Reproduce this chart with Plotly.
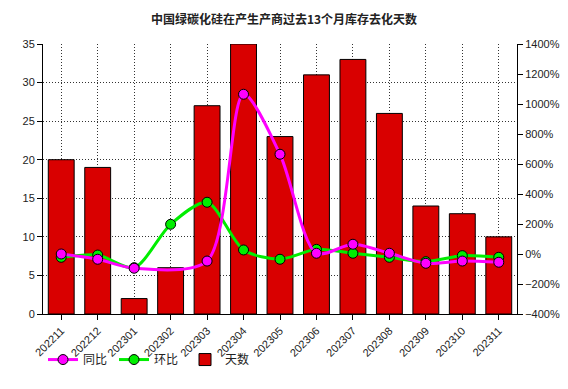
import plotly.graph_objects as go

months = ["202211", "202212", "202301", "202302", "202303", "202304", "202305",
          "202306", "202307", "202308", "202309", "202310", "202311"]
days = [20, 19, 2, 6, 27, 35, 23, 31, 33, 26, 14, 13, 10]
yoy = [0, -35, -95, None, -47, 1065, 665, 5, 65, 5, -62, -47, -55]
mom = [-22, -7, -91, 198, 345, 27, -35, 31, 5, -22, -51, -11, -22]

font_lat = "Liberation Sans, Arial, Noto Sans CJK SC, sans-serif"
font_cjk = "Noto Sans CJK SC, sans-serif"

fig = go.Figure()
fig.add_trace(go.Bar(
    x=months, y=days, name="天数", width=0.71,
    marker=dict(color="#D90000", line=dict(color="black", width=1)),
    legendrank=3,
))
fig.add_trace(go.Scatter(
    x=months, y=mom, name="环比", yaxis="y2", mode="lines+markers",
    line=dict(color="#00EE00", width=3, shape="spline", smoothing=0.8),
    marker=dict(size=10, color="#00EE00", line=dict(color="black", width=1)),
    legendrank=2,
))
fig.add_trace(go.Scatter(
    x=months, y=yoy, name="同比", yaxis="y2", mode="lines+markers",
    connectgaps=True,
    line=dict(color="#FF00FF", width=3, shape="spline", smoothing=0.8),
    marker=dict(size=10, color="#FF00FF", line=dict(color="black", width=1)),
    legendrank=1,
))

grid = dict(showgrid=True, gridcolor="#333333", griddash="1px,2px", gridwidth=1)

fig.update_layout(
    width=568, height=389,
    margin=dict(l=43, r=51, t=44, b=75, autoexpand=False),
    paper_bgcolor="white", plot_bgcolor="white",
    title=dict(text="<b>中国绿碳化硅在产生产商过去13个月库存去化天数</b>",
               x=0.5, xanchor="center", y=0.95, yanchor="middle",
               font=dict(family=font_cjk, size=12, color="#222222")),
    showlegend=True,
    legend=dict(orientation="h", x=0.0, xanchor="left", y=-0.115, yanchor="top",
                font=dict(family=font_cjk, size=12, color="#222222"),
                itemwidth=30, entrywidth=26, entrywidthmode="pixels",
                tracegroupgap=0, bgcolor="rgba(0,0,0,0)"),
    xaxis=dict(
        type="category", tickangle=-45, automargin=False,
        **grid,
        showline=True, linecolor="black", linewidth=1,
        ticks="outside", ticklen=5, tickcolor="black",
        tickfont=dict(family=font_lat, size=11, color="#222222"),
        range=[-0.5, 12.5],
    ),
    yaxis=dict(
        range=[0, 35], dtick=5, automargin=False,
        **grid,
        showline=True, linecolor="black", linewidth=1,
        ticks="outside", ticklen=5, tickcolor="black",
        tickfont=dict(family=font_lat, size=11, color="#222222"),
        zeroline=False,
    ),
    yaxis2=dict(
        overlaying="y", side="right", automargin=False,
        range=[-400, 1400], dtick=200, ticksuffix="%",
        showgrid=False, zeroline=False,
        showline=True, linecolor="black", linewidth=1,
        ticks="outside", ticklen=5, tickcolor="black",
        tickfont=dict(family=font_lat, size=11, color="#222222"),
    ),
)

fig.write_html("out.html", config={"displayModeBar": False},
               post_script="document.body.style.margin='0';document.body.style.padding='0';")
